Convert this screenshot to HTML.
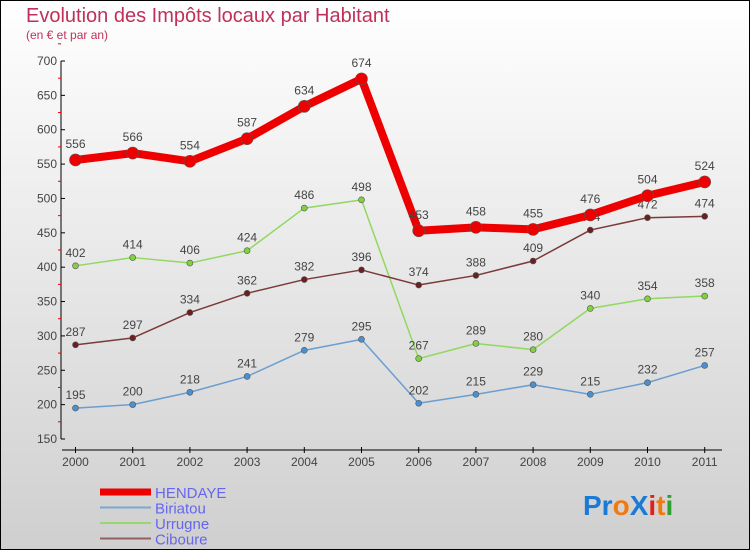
<!DOCTYPE html>
<html><head><meta charset="utf-8"><style>
body{margin:0;}
#c{width:750px;height:550px;position:relative;overflow:hidden;background:linear-gradient(#ffffff,#cfcfcf);font-family:"Liberation Sans",sans-serif;}
svg{position:absolute;left:0;top:0;}
</style></head><body>
<div id="c">
<svg id="s" width="750" height="550" xmlns="http://www.w3.org/2000/svg">
<rect x="0.5" y="0.5" width="749" height="549" fill="none" stroke="#000"/>
<text x="26" y="22" font-size="20" fill="#c0305a">Evolution des Impôts locaux par Habitant</text>
<text x="26" y="39" font-size="12" fill="#c0305a">(en € et par an)</text>
<text x="583" y="515" font-size="28" font-weight="bold"><tspan fill="#1a7ad6">Pr</tspan><tspan fill="#f07a10">o</tspan><tspan fill="#1a7ad6">X</tspan><tspan fill="#e0201a">i</tspan><tspan fill="#f07a10">t</tspan><tspan fill="#30a030">i</tspan></text>
</svg>
</div>
<script>
const years=["2000","2001","2002","2003","2004","2005","2006","2007","2008","2009","2010","2011"];
const hendaye=[556,566,554,587,634,674,453,458,455,476,504,524];
const biriatou=[195,200,218,241,279,295,202,215,229,215,232,257];
const urrugne=[402,414,406,424,486,498,267,289,280,340,354,358];
const ciboure=[287,297,334,362,382,396,374,388,409,454,472,474];
const yTicks=[150,200,250,300,350,400,450,500,550,600,650,700];
const NS="http://www.w3.org/2000/svg";
const s=document.getElementById('s');
const X=i=>75.5+i*57.2;
const Y=v=>61+(700-v)*378/550;
function mk(t,a,p){const e=document.createElementNS(NS,t);for(const k in a)e.setAttribute(k,a[k]);(p||s).appendChild(e);return e;}
// y axis
const ya=mk('line',{x1:61,y1:61,x2:61,y2:439,stroke:'#000'});


yTicks.forEach(v=>{
 const t=mk('line',{x1:61,y1:Y(v),x2:65,y2:Y(v),stroke:'#000'});
 
 
 const m=mk('line',{x1:58,y1:Y(v+25),x2:61,y2:Y(v+25),stroke:'#e00'});
 
 
 const l=mk('text',{x:57,y:Y(v)+4,'text-anchor':'end','font-size':12,fill:'#444'});
 l.textContent=v;
 
 
});
const xa=mk('line',{x1:62,y1:450,x2:722,y2:450,stroke:'#000'});


years.forEach((y,i)=>{
 const t=mk('line',{x1:X(i),y1:447,x2:X(i),y2:453,stroke:'#000'});
 
 
 const l=mk('text',{x:X(i),y:466,'text-anchor':'middle','font-size':12,fill:'#444'});
 l.textContent=y;
 
 
});
function series(name,data,color,w,r,dot){
 const g=mk('g',{});
 
 
 const pl=mk('polyline',{points:data.map((v,i)=>X(i)+','+Y(v)).join(' '),fill:'none',stroke:color,'stroke-width':w,'stroke-linejoin':'round'},g);
 
 
 data.forEach((v,i)=>{
  const c=mk('circle',{cx:X(i),cy:Y(v),r:r,fill:dot,stroke:'#555','stroke-width':0.6},g);
  
  
  const l=mk('text',{x:X(i),y:Y(v)-(r+6),'text-anchor':'middle','font-size':12,fill:'#444'},g);
  l.textContent=v;
  
  
 });
}
series('biriatou',biriatou,'#6a9ed0',1.5,3,'#4a90d0');
series('urrugne',urrugne,'#90d860',1.5,3,'#80d040');
series('ciboure',ciboure,'#7a3a3a',1.5,3,'#6a2020');
series('hendaye',hendaye,'#ee0000',8,6,'#ee0000');
// legend
const legend=[["HENDAYE","#ee0000",7],["Biriatou","#7aa8d0",2],["Urrugne","#98d870",2],["Ciboure","#946060",2]];
legend.forEach((d,i)=>{
 const y=492+i*15.5;
 const ln=mk('line',{x1:100,y1:y,x2:151,y2:y,stroke:d[1],'stroke-width':d[2]});
 
 
 const t=mk('text',{x:155,y:y+6,'font-size':15,fill:'#6666ee'});
 t.textContent=d[0];
 
 
});
</script>
</body></html>
